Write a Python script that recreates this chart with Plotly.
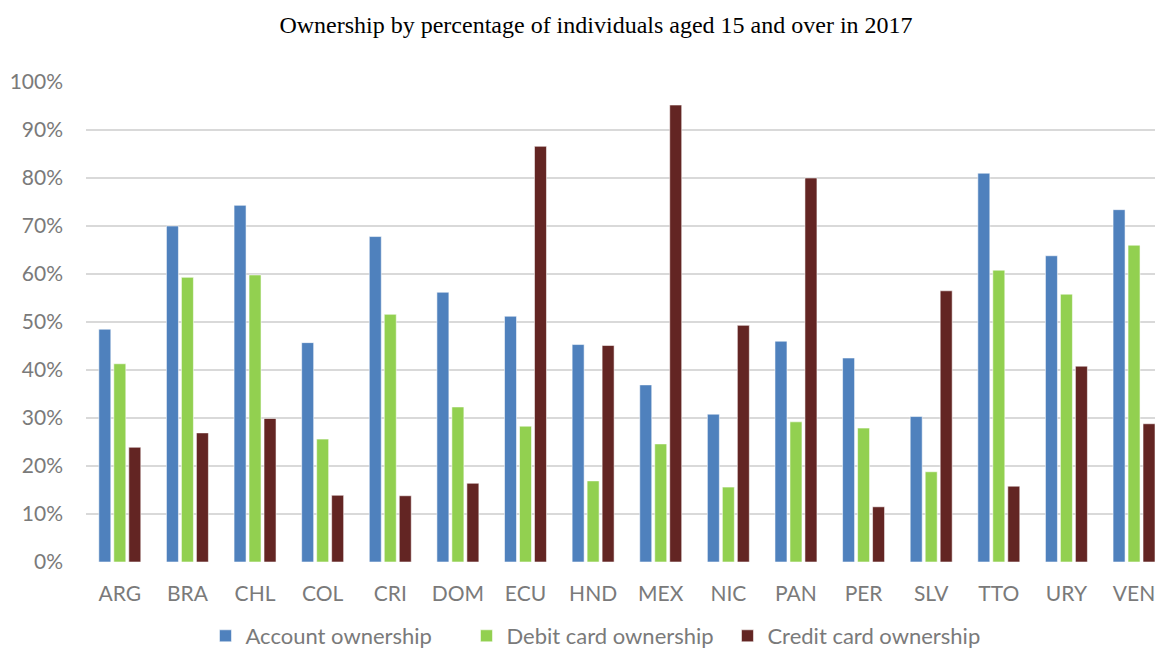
import plotly.graph_objects as go

countries = ["ARG", "BRA", "CHL", "COL", "CRI", "DOM", "ECU", "HND",
             "MEX", "NIC", "PAN", "PER", "SLV", "TTO", "URY", "VEN"]
account = [48.5, 70.0, 74.3, 45.7, 67.8, 56.2, 51.2, 45.3,
           36.9, 30.8, 46.0, 42.5, 30.3, 81.0, 63.8, 73.4]
debit = [41.3, 59.3, 59.8, 25.6, 51.6, 32.3, 28.3, 16.9,
         24.6, 15.6, 29.2, 27.9, 18.8, 60.8, 55.8, 66.0]
credit = [23.9, 26.9, 29.9, 13.9, 13.8, 16.4, 86.6, 45.1,
          95.2, 49.3, 80.0, 11.5, 56.5, 15.8, 40.8, 28.8]
series_names = ["Account ownership", "Debit card ownership", "Credit card ownership"]
colors = ["#4F81BD", "#92D050", "#632523"]
yticks = list(range(0, 101, 10))

fig = go.Figure()
for name, vals, col in zip(series_names, [account, debit, credit], colors):
    fig.add_trace(go.Bar(
        x=countries, y=vals, name=name,
        marker=dict(color=col, line=dict(color="rgba(255,255,255,0.55)", width=1)),
    ))

tick_font = dict(family="Lato, sans-serif", size=21, color="#7a7a7a")

fig.update_layout(
    width=1155, height=657,
    margin=dict(l=86, r=0, t=82, b=95),
    paper_bgcolor="white", plot_bgcolor="white",
    barmode="group", bargap=0.335, bargroupgap=0.2,
    title=dict(text="Ownership by percentage of individuals aged 15 and over in 2017",
               x=0.516, xanchor="center", y=0.962, yanchor="middle",
               font=dict(family="Liberation Serif, Times New Roman, serif", size=24, color="black")),
    xaxis=dict(range=[-0.5, 15.31], showgrid=False, zeroline=False, showline=False,
               tickfont=tick_font, ticks="", ticklabelstandoff=17),
    yaxis=dict(range=[0, 100], tickvals=yticks, ticktext=[f"{v}%" for v in yticks],
               showgrid=True, gridcolor="#D9D9D9", gridwidth=1.5,
               zeroline=False, showline=False, tickfont=tick_font, ticks="",
               ticklabelstandoff=22),
    legend=dict(orientation="h", x=0.478, xanchor="center",
                yref="container", y=-0.009, yanchor="bottom",
                font=dict(family="Lato, sans-serif", size=22, color="#7a7a7a"),
                traceorder="normal", itemwidth=30,
                entrywidth=216, entrywidthmode="pixels"),
)

fig.write_html("out.html")
